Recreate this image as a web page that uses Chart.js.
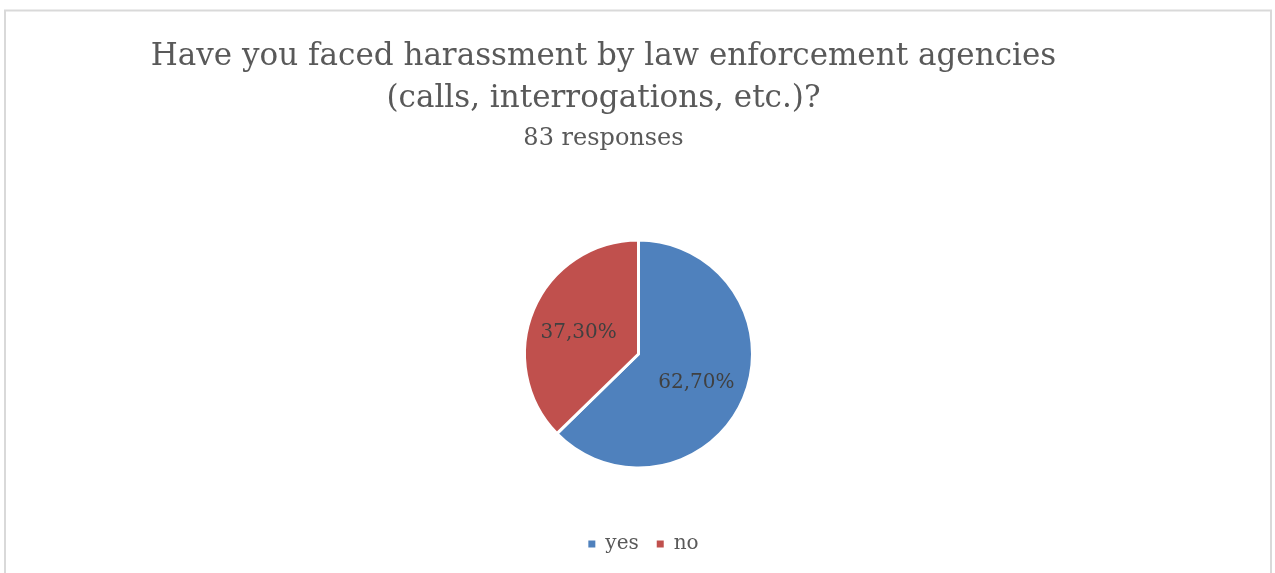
<!DOCTYPE html>
<html>
<head>
<meta charset="utf-8">
<script src="https://cdn.jsdelivr.net/npm/chart.js@4/dist/chart.umd.min.js"></script>
<style>
  html, body { margin: 0; padding: 0; background: #ffffff; }
  #wrap { position: relative; width: 1275px; height: 573px; }
</style>
</head>
<body>
<div id="wrap"><canvas id="c" width="1275" height="573"></canvas></div>
<script>
// Survey answers (percent of 83 responses)
const categories = ['yes', 'no'];
const shares = [62.7, 37.3];
const sliceColors = ['#4F81BD', '#C0504D'];
const titleLines = ['Have you faced harassment by law enforcement agencies', '(calls, interrogations, etc.)?'];
const subtitleText = '83 responses';

const SERIF = '"DejaVu Serif", "Liberation Serif", serif';

// White background and the light grey frame around the chart
const framePlugin = {
  id: 'frame',
  beforeDraw(chart) {
    const ctx = chart.ctx;
    ctx.save();
    ctx.fillStyle = '#ffffff';
    ctx.fillRect(0, 0, chart.width, chart.height);
    ctx.strokeStyle = '#D9D9D9';
    ctx.lineWidth = 2;
    ctx.strokeRect(5, 10.5, 1266, 700);
    ctx.restore();
  }
};

// Nudge the legend row slightly right of the pie's axis
const legendNudgePlugin = {
  id: 'legendNudge',
  afterLayout(chart) {
    if (chart.legend) {
      chart.legend.left += 5;
      chart.legend.right += 5;
    }
  }
};

// Two-line question plus response count above the pie
const headingPlugin = {
  id: 'heading',
  afterDraw(chart) {
    const ctx = chart.ctx;
    const cx = 603.5;
    ctx.save();
    ctx.fillStyle = '#595959';
    ctx.textAlign = 'center';
    ctx.textBaseline = 'alphabetic';
    ctx.font = '31px ' + SERIF;
    ctx.fillText(titleLines[0], cx, 65);
    ctx.fillText(titleLines[1], cx, 107);
    ctx.font = '24px ' + SERIF;
    ctx.fillText(subtitleText, cx, 145);
    ctx.restore();
  }
};

// Percentage labels inside each slice
const sliceLabelPlugin = {
  id: 'sliceLabels',
  afterDatasetsDraw(chart) {
    const ctx = chart.ctx;
    const meta = chart.getDatasetMeta(0);
    const values = chart.data.datasets[0].data;
    ctx.save();
    ctx.fillStyle = '#404040';
    ctx.font = '20px ' + SERIF;
    ctx.textAlign = 'center';
    ctx.textBaseline = 'middle';
    meta.data.forEach((arc, i) => {
      const p = arc.getProps(['x', 'y', 'startAngle', 'endAngle', 'outerRadius'], true);
      const mid = (p.startAngle + p.endAngle) / 2;
      const r = p.outerRadius * 0.56;
      const text = values[i].toFixed(2).replace('.', ',') + '%';
      ctx.fillText(text, p.x + Math.cos(mid) * r - 1, p.y + Math.sin(mid) * r + 4);
    });
    ctx.restore();
  }
};

new Chart(document.getElementById('c'), {
  type: 'pie',
  data: {
    labels: categories,
    datasets: [{
      data: shares,
      backgroundColor: sliceColors,
      borderColor: '#ffffff',
      borderWidth: 3,
      radius: 114,
      hoverOffset: 0
    }]
  },
  options: {
    responsive: false,
    animation: false,
    devicePixelRatio: 1,
    layout: { padding: { top: 192, bottom: 9, left: 2, right: 0 } },
    plugins: {
      title: { display: false },
      tooltip: { enabled: false },
      legend: {
        display: true,
        position: 'bottom',
        labels: {
          boxWidth: 7,
          boxHeight: 7,
          padding: 18,
          color: '#595959',
          font: { family: SERIF, size: 20 },
          generateLabels(chart) {
            const items = Chart.overrides.pie.plugins.legend.labels.generateLabels(chart);
            return items.map(it => Object.assign(it, { lineWidth: 0, strokeStyle: 'rgba(0,0,0,0)' }));
          }
        }
      }
    }
  },
  plugins: [framePlugin, legendNudgePlugin, headingPlugin, sliceLabelPlugin]
});
</script>
</body>
</html>
